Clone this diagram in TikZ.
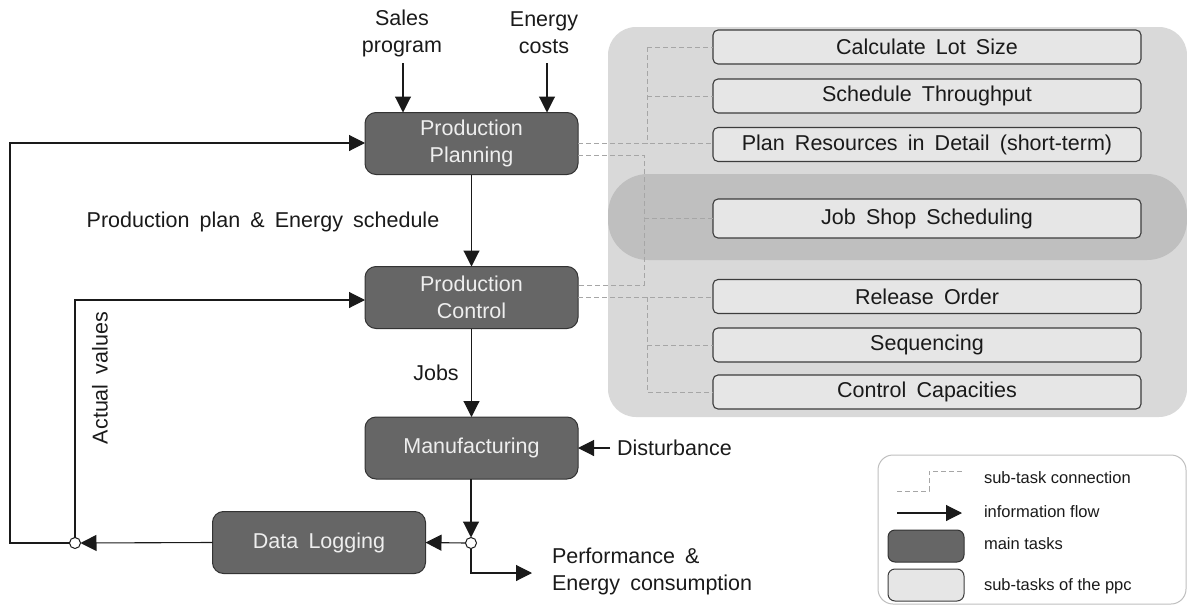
\documentclass[tikz,border=0pt]{standalone}
\usepackage{fontspec}
\setmainfont{Liberation Sans}[WordSpace=1.7]
\newfontfamily\legendfamily{Liberation Sans}
\usetikzlibrary{arrows.meta}

\definecolor{taskfill}{HTML}{666666}
\definecolor{taskline}{HTML}{333333}
\definecolor{subfill}{HTML}{E6E6E6}
\definecolor{subline}{HTML}{3C3C3C}
\definecolor{panelgray}{HTML}{D9D9D9}
\definecolor{bandgray}{HTML}{BFBFBF}
\definecolor{dashgray}{HTML}{A6A6A6}
\definecolor{legline}{HTML}{BFBFBF}
\definecolor{inkcol}{HTML}{1A1A1A}
\definecolor{tasktext}{HTML}{EEEEEE}

\newcommand\bigtxt{\fontsize{21.5}{27}\selectfont}
\newcommand\legtxt{\legendfamily\fontsize{16.5}{19}\selectfont}

\begin{document}
\begin{tikzpicture}[x=1pt,y=-1pt,
  every node/.style={inner sep=0pt, outer sep=0pt},
  maintask/.style={draw=taskline, fill=taskfill, line width=1pt, rounded corners=11pt,
    minimum width=213pt, minimum height=62pt, text=tasktext, align=center, font=\bigtxt},
  subtask/.style={draw=subline, fill=subfill, line width=1.1pt, rounded corners=5pt,
    minimum width=428pt, minimum height=34pt, text=inkcol, font=\bigtxt},
  label/.style={text=inkcol, font=\bigtxt, align=center},
  legendtxt/.style={text=inkcol, font=\legtxt, anchor=west},
  flow/.style={draw=inkcol, line width=1.1pt, -{Triangle[length=16pt,width=16pt]}},
  subconn/.style={draw=dashgray, line width=1pt, dash pattern=on 5pt off 3pt},
  junction/.style={circle, draw=inkcol, fill=white, line width=1pt, minimum size=11pt}
]
\useasboundingbox (0,0) rectangle (1187,605);

% ---- background panel of the ppc sub-tasks ----
\fill[panelgray, rounded corners=28pt] (608,27) rectangle (1187,417);
\fill[bandgray, rounded corners=40pt] (608,174) rectangle (1187,260);

% ---- main tasks ----
\node[maintask] (PP) at (471.5,143.5) {Production\\Planning};
\node[maintask] (PC) at (471.5,297.5) {Production\\Control};
\node[maintask] (MF) at (471.5,448) {Manufacturing};
\node[maintask] (DL) at (319,542.5) {Data Logging};

% ---- sub-tasks ----
\node[subtask] (CLS) at (927,47)    {Calculate Lot Size};
\node[subtask] (ST)  at (927,96)    {Schedule Throughput};
\node[subtask] (PR)  at (927,144.5) {Plan Resources in Detail (short-term)};
\node[subtask, minimum height=39pt] (JSS) at (927,218.5) {Job Shop Scheduling};
\node[subtask] (RO)  at (927,296.5) {Release Order};
\node[subtask] (SQ)  at (927,345)   {Sequencing};
\node[subtask] (CC)  at (927,392)   {Control Capacities};

% ---- sub-task connections ----
\coordinate (treetop) at (647,47);
\coordinate (treemid) at (647,144);
\coordinate (treelow) at (647,297);
\coordinate (treebot) at (647,392);
\coordinate (linkx) at (644,0);
\draw[subconn] (treetop) -- (CLS.west);
\draw[subconn] (treetop |- ST.west) -- (ST.west);
\draw[subconn] (treetop) -- (treemid);
\draw[subconn] (PP.east) -- (PP.east -| PR.west);
\draw[subconn] ([yshift=-11.5pt]PP.east) -| (linkx |- JSS.west) |- ([yshift=12.5pt]PC.east);
\draw[subconn] (linkx |- JSS.west) -- (JSS.west);
\draw[subconn] (PC.east) -- (PC.east -| RO.west);
\draw[subconn] (treelow) -- (treebot) -- (CC.west);
\draw[subconn] (treelow |- SQ.west) -- (SQ.west);

% ---- inputs ----
\node[label] (sales)  at (402,33) {Sales\\program};
\node[label] (energy) at (544,33) {Energy\\costs};
\coordinate (salesin)  at (403,63);
\coordinate (energyin) at (547,63);
\draw[flow] (salesin) -- (salesin |- PP.north);
\draw[flow] (energyin) -- (energyin |- PP.north);

% ---- main flow ----
\draw[flow] (PP) -- (PC);
\node[label] (plan) at (263,222) {Production plan \& Energy schedule};
\draw[flow] (PC) -- (MF);
\node[label] (jobs) at (436,373) {Jobs};

\node[label, anchor=west] (dist) at (617,448) {Disturbance};
\draw[flow] ([xshift=-7pt]dist.west) -- (MF.east);

\node[junction] (jR) at (471,543) {};
\node[junction] (jL) at (75,543) {};
\draw[flow] (jR |- MF.south) -- (jR.north);
\draw[flow] (jR.west) -- (DL.east);
\draw[flow] (DL.west) -- (jL.east);

\node[label, align=left, anchor=west] (perf) at (552,571.5) {Performance \&\\Energy consumption};
\coordinate (perfend) at (532,573);
\draw[flow] (jR.south) |- (perfend);

% ---- feedback of actual values ----
\coordinate (outer) at (10,543);
\draw[flow] (jL.west) -- (outer) |- (PP.west |- 0,143);
\draw[flow] (jL.north) |- (PC.west |- 0,300);
\node[label, rotate=90] (actual) at (100,378) {Actual values};

% ---- legend ----
\draw[legline, fill=white, line width=1pt, rounded corners=15pt] (878,455) rectangle (1186,604);
\coordinate (lgA) at (897,491);
\coordinate (lgB) at (962,471);
\draw[subconn, line width=0.9pt] (lgA) -| (929,471) -- (lgB);
\node[legendtxt] (lt1) at (984,478) {sub-task connection};
\coordinate (lgC) at (897,513);
\coordinate (lgD) at (962,513);
\draw[flow] (lgC) -- (lgD);
\node[legendtxt] (lt2) at (984,512) {information flow};
\node[draw=taskline, fill=taskfill, line width=1pt, rounded corners=7pt,
      minimum width=76pt, minimum height=32pt] (lgmain) at (926,546) {};
\node[legendtxt] (lt3) at (984,544) {main tasks};
\node[draw=subline, fill=subfill, line width=1pt, rounded corners=7pt,
      minimum width=76pt, minimum height=32pt] (lgsub) at (926,585) {};
\node[legendtxt] (lt4) at (984,586) {sub-tasks of the ppc};
\end{tikzpicture}
\end{document}
